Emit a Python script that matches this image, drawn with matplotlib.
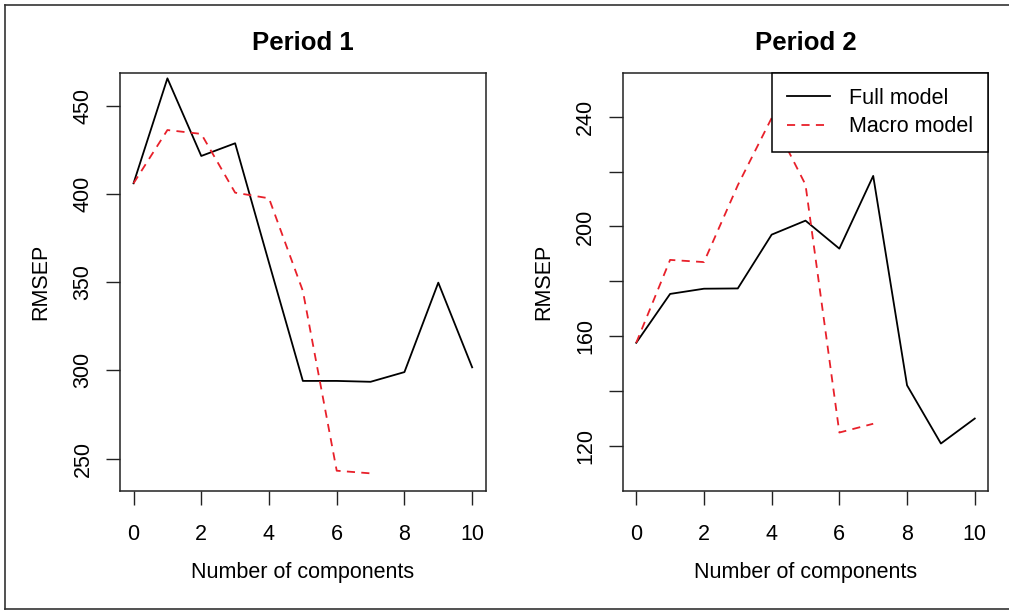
import numpy as np
import matplotlib
matplotlib.use("Agg")
import matplotlib.pyplot as plt
from matplotlib.lines import Line2D

plt.rcParams['font.family'] = ['Liberation Sans', 'DejaVu Sans']

# number of components
comps_full = [0, 1, 2, 3, 4, 5, 6, 7, 8, 9, 10]
comps_macro = [0, 1, 2, 3, 4, 5, 6, 7]

# RMSEP, period 1
p1_full = [406, 465.5, 421.5, 428.7, 361, 294, 294, 293.5, 299, 349.7, 301.7]
p1_macro = [406, 436.2, 434, 400.7, 397.5, 345, 243.1, 241.6]

# RMSEP, period 2
p2_full = [157.6, 175.4, 177.3, 177.4, 197, 202.1, 191.9, 218.4, 142.1, 120.9, 130]
p2_macro = [157.6, 187.8, 187, 215, 239.5, 215.2, 124.9, 128.1]

xticks = [0, 2, 4, 6, 8, 10]
p1_yticks = [250, 300, 350, 400, 450]
p2_yticks = [120, 140, 160, 180, 200, 220, 240]
p2_ylabels = ['120', '', '160', '', '200', '', '240']

W, H = 1009, 611
fig = plt.figure(figsize=(W / 100, H / 100), dpi=100)

fs = 15.5


def panel(rect, title, full, macro, ylim, yticks, ylabels, legend=False):
    ax = fig.add_axes(rect)
    ax.plot(comps_full, full, color='black', lw=1.3, label='Full model')
    ax.plot(comps_macro, macro, color='#e8202a', lw=1.3, ls=(0, (4.5, 3.5)),
            label='Macro model')
    ax.set_xlim(-0.4, 10.4)
    ax.set_ylim(*ylim)
    ax.set_xticks(xticks)
    ax.set_yticks(yticks)
    ax.set_yticklabels(ylabels)
    ax.tick_params(direction='out', length=10, width=1.0, labelsize=fs,
                   color='#222222')
    ax.tick_params(axis='x', pad=13.5)
    ax.tick_params(axis='y', pad=9)
    plt.setp(ax.get_yticklabels(), rotation=90, va='center')
    for s in ax.spines.values():
        s.set_linewidth(1.1)
        s.set_color('#222222')
    ax.set_xlabel('Number of components', fontsize=fs, va='center')
    ax.xaxis.set_label_coords(0.5, -0.194)
    ax.set_ylabel('RMSEP', fontsize=fs, va='center')
    ax.yaxis.set_label_coords(-0.216, 0.5)
    ax.text(0.5, 1.072, title, transform=ax.transAxes, ha='center',
            va='center', fontsize=18.5, fontweight='bold')
    if legend:
        leg = ax.legend(loc='upper right', fontsize=fs, frameon=True,
                        fancybox=False, framealpha=1, edgecolor='black',
                        borderaxespad=0, borderpad=0.7, handlelength=2.0,
                        handletextpad=0.9, labelspacing=0.35)
        leg.get_frame().set_linewidth(1.1)
    return ax


panel([120 / W, 1 - 491 / H, 365.7 / W, 418.3 / H], 'Period 1',
      p1_full, p1_macro, (231.6, 468.7), p1_yticks,
      [str(v) for v in p1_yticks])
panel([622.7 / W, 1 - 491 / H, 365.6 / W, 418.3 / H], 'Period 2',
      p2_full, p2_macro, (103.6, 256), p2_yticks, p2_ylabels, legend=True)

# outer frame of the picture (right edge falls off the canvas)
x0, x1 = 5 / W, 1.01
y0, y1 = 1 - 609 / H, 1 - 4.7 / H
for xs, ys in [([x0, x1], [y1, y1]), ([x0, x0], [y0, y1]), ([x0, x1], [y0, y0])]:
    fig.add_artist(Line2D(xs, ys, transform=fig.transFigure, color='#333333',
                          lw=1.2))

fig.savefig('out.png', dpi=100)
